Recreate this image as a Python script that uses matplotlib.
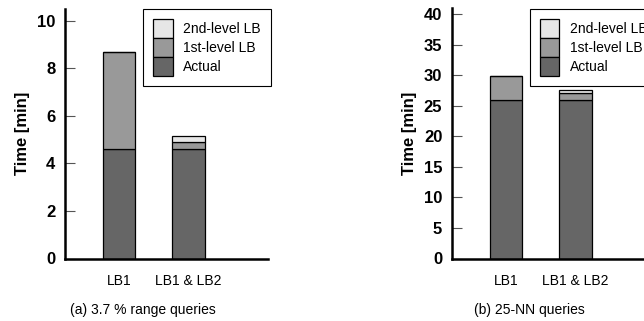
import matplotlib
matplotlib.use("Agg")
import numpy as np
import matplotlib.pyplot as plt
from matplotlib.patches import Patch

plt.rcParams['font.family'] = ['Liberation Sans', 'DejaVu Sans']

# === DATA ===================================================================
categories   = ["LB1", "LB1 & LB2"]

range_actual = [4.61, 4.61]      # (a) 3.7 % range queries
range_lb1    = [4.07, 0.28]
range_lb2    = [0.0, 0.26]

knn_actual   = [25.9, 26.0]      # (b) 25-NN queries
knn_lb1      = [4.0, 1.15]
knn_lb2      = [0.0, 0.35]

captions     = ["(a) 3.7 % range queries", "(b) 25-NN queries"]
# ============================================================================

C_ACT, C_LB1, C_LB2 = "#666666", "#999999", "#e6e6e6"

W, H = 644, 321
fig = plt.figure(figsize=(W / 100, H / 100), dpi=100)


def px_axes(left, top, width, bottom):
    return fig.add_axes([left / W, (H - bottom) / H, width / W, (bottom - top) / H])


def draw_panel(ax, actual, lb1, lb2, ymax, yticks, cap, cap_x, leg_x):
    x = np.arange(1, len(categories) + 1)
    kw = dict(width=0.46, edgecolor="black", linewidth=0.9)
    ax.bar(x, actual, color=C_ACT, **kw)
    ax.bar(x, lb1, bottom=actual, color=C_LB1, **kw)
    bot2 = np.array(actual) + np.array(lb1)
    ax.bar(x, lb2, bottom=bot2, color=C_LB2, **kw)

    ax.set_xlim(0.23, 3.14)
    ax.set_ylim(0, ymax)
    ax.set_yticks(yticks)
    ax.set_xticks(x)
    ax.set_xticklabels(categories, fontsize=10)
    ax.tick_params(axis="x", length=0, pad=11.5)
    ax.tick_params(axis="y", direction="in", length=7, width=0.8,
                   color="#555555", pad=7, labelsize=12)
    for t in ax.get_yticklabels():
        t.set_fontweight("bold")
    for s in ("top", "right"):
        ax.spines[s].set_visible(False)
    for s in ("left", "bottom"):
        ax.spines[s].set_linewidth(1.8)
    ax.set_ylabel("Time [min]", fontsize=12, fontweight="bold")
    ax.yaxis.set_label_coords(-0.17, 0.5)

    handles = [Patch(facecolor=C_LB2, edgecolor="black", linewidth=0.9),
               Patch(facecolor=C_LB1, edgecolor="black", linewidth=0.9),
               Patch(facecolor=C_ACT, edgecolor="black", linewidth=0.9)]
    labels = ["2nd-level LB", "1st-level LB", "Actual"]
    leg = ax.legend(handles, labels, loc="upper left",
                    bbox_to_anchor=(leg_x / W, (H - 9) / H),
                    bbox_transform=fig.transFigure, borderaxespad=0,
                    fontsize=10, fancybox=False, framealpha=1,
                    edgecolor="black", handleheight=1.73, handlelength=1.42,
                    handletextpad=0.74, labelspacing=0, borderpad=0.72)
    leg.get_frame().set_linewidth(0.8)

    fig.text(cap_x / W, (H - 310) / H, cap, ha="center", va="center", fontsize=10)


ax1 = px_axes(65, 8.5, 203, 258.5)
draw_panel(ax1, range_actual, range_lb1, range_lb2, 10.51, [0, 2, 4, 6, 8, 10],
           captions[0], 142.5, 143)

ax2 = px_axes(452, 8.5, 203, 258.5)
draw_panel(ax2, knn_actual, knn_lb1, knn_lb2, 40.9, [0, 5, 10, 15, 20, 25, 30, 35, 40],
           captions[1], 529.5, 529.5)

fig.savefig("out.png", dpi=100)
